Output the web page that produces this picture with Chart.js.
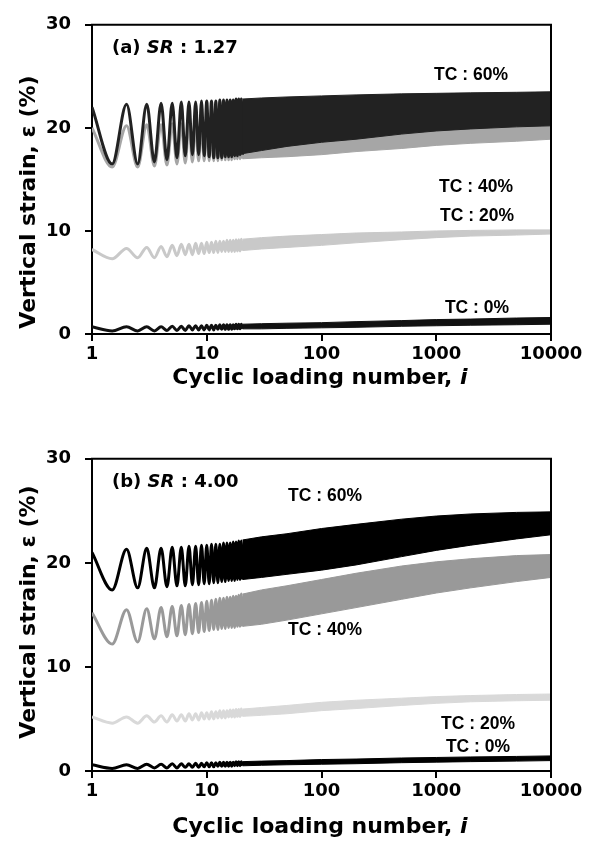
<!DOCTYPE html>
<html>
<head>
<meta charset="utf-8">
<script src="https://cdn.jsdelivr.net/npm/chart.js@4.4.0/dist/chart.umd.min.js"></script>
<style>
  html, body { margin: 0; padding: 0; background: #fff; }
  #wrap { position: relative; width: 595px; height: 851px; }
  canvas { position: absolute; left: 0; }
</style>
</head>
<body>
<div id="wrap">
  <canvas id="chartA" width="595" height="434" style="top:0"></canvas>
  <canvas id="chartB" width="595" height="417" style="top:434px"></canvas>
</div>
<script>
// resolved cycles: peak at cycle i, trough half a cycle later
const cycles = [1, 2, 3, 4, 5, 6, 7, 8, 9, 10, 11, 12, 13, 14, 15, 16, 17, 18, 19, 20];
// beyond that the oscillation is drawn as a band (upper / lower envelope)
const bandX = [20.5, 30, 50, 100, 200, 500, 1000, 2000, 5000, 10000];
const xTicks = [1, 10, 100, 1000, 10000];
const yTicks = [0, 10, 20, 30];

// (a) SR : 1.27
const a60Peak   = [22.0, 22.3, 22.3, 22.4, 22.4, 22.5, 22.5, 22.5, 22.6, 22.6, 22.6, 22.6, 22.7, 22.7, 22.7, 22.7, 22.7, 22.8, 22.8, 22.8];
const a60Trough = [16.5, 16.5, 16.7, 16.9, 17.1, 17.3, 17.4, 17.4, 17.3, 17.2, 17.1, 17.1, 17.1, 17.2, 17.2, 17.2, 17.3, 17.3, 17.4, 17.4];
const a60Upper  = [22.8, 22.9, 23.0, 23.1, 23.2, 23.3, 23.35, 23.4, 23.45, 23.5];
const a60Lower  = [17.5, 17.8, 18.2, 18.6, 18.9, 19.4, 19.7, 19.9, 20.1, 20.2];

const a40Peak   = [20.0, 20.2, 20.3, 20.3, 20.4, 20.4, 20.5, 20.5, 20.5, 20.6, 20.6, 20.6, 20.6, 20.6, 20.6, 20.6, 20.7, 20.7, 20.7, 20.7];
const a40Trough = [16.2, 16.2, 16.3, 16.4, 16.5, 16.6, 16.7, 16.8, 16.8, 16.8, 16.8, 16.8, 16.9, 16.9, 16.9, 16.9, 17.0, 17.0, 17.0, 17.0];
const a40Upper  = [20.7, 20.8, 21.0, 21.2, 21.4, 21.6, 21.8, 21.9, 22.0, 22.0];
const a40Lower  = [17.0, 17.1, 17.2, 17.4, 17.7, 18.0, 18.3, 18.5, 18.7, 18.9];

const a20Peak   = [8.2, 8.3, 8.4, 8.5, 8.6, 8.7, 8.7, 8.8, 8.8, 8.9, 8.9, 9.0, 9.0, 9.0, 9.1, 9.1, 9.1, 9.15, 9.15, 9.2];
const a20Trough = [7.3, 7.4, 7.4, 7.5, 7.6, 7.7, 7.7, 7.8, 7.8, 7.9, 7.9, 7.9, 8.0, 8.0, 8.0, 8.0, 8.0, 8.05, 8.05, 8.1];
const a20Upper  = [9.2, 9.35, 9.5, 9.65, 9.8, 9.9, 10.0, 10.05, 10.1, 10.1];
const a20Lower  = [8.1, 8.25, 8.4, 8.6, 8.85, 9.15, 9.35, 9.5, 9.6, 9.7];

const a0Peak    = [0.7, 0.7, 0.7, 0.7, 0.75, 0.75, 0.8, 0.8, 0.8, 0.85, 0.85, 0.85, 0.9, 0.9, 0.9, 0.9, 0.9, 0.95, 0.95, 0.95];
const a0Trough  = [0.3, 0.3, 0.3, 0.35, 0.35, 0.35, 0.4, 0.4, 0.4, 0.4, 0.4, 0.45, 0.45, 0.45, 0.45, 0.45, 0.5, 0.5, 0.5, 0.5];
const a0Upper   = [0.95, 1.0, 1.05, 1.1, 1.2, 1.3, 1.4, 1.45, 1.55, 1.6];
const a0Lower   = [0.5, 0.5, 0.55, 0.6, 0.65, 0.75, 0.8, 0.85, 0.9, 0.95];

// (b) SR : 4.00
const b60Peak   = [21.0, 21.3, 21.4, 21.4, 21.5, 21.5, 21.6, 21.6, 21.7, 21.7, 21.8, 21.8, 21.8, 21.9, 21.9, 21.9, 22.0, 22.0, 22.1, 22.1];
const b60Trough = [17.4, 17.6, 17.6, 17.7, 17.8, 17.8, 17.9, 17.9, 18.0, 18.0, 18.1, 18.1, 18.2, 18.2, 18.3, 18.3, 18.3, 18.4, 18.4, 18.4];
const b60Upper  = [22.2, 22.5, 22.8, 23.3, 23.7, 24.2, 24.5, 24.7, 24.85, 24.9];
const b60Lower  = [18.4, 18.6, 18.9, 19.3, 19.8, 20.6, 21.2, 21.7, 22.3, 22.7];

const b40Peak   = [15.2, 15.5, 15.6, 15.7, 15.8, 15.9, 16.0, 16.1, 16.2, 16.3, 16.4, 16.5, 16.6, 16.6, 16.7, 16.7, 16.8, 16.8, 16.9, 17.0];
const b40Trough = [12.2, 12.4, 12.7, 12.9, 13.0, 13.1, 13.2, 13.3, 13.4, 13.5, 13.6, 13.6, 13.7, 13.7, 13.8, 13.8, 13.8, 13.9, 13.9, 13.9];
const b40Upper  = [17.0, 17.4, 17.8, 18.4, 19.0, 19.7, 20.1, 20.4, 20.7, 20.8];
const b40Lower  = [13.9, 14.1, 14.5, 15.1, 15.7, 16.5, 17.1, 17.6, 18.2, 18.6];

const b20Peak   = [5.2, 5.2, 5.3, 5.3, 5.4, 5.4, 5.5, 5.5, 5.6, 5.6, 5.7, 5.7, 5.8, 5.8, 5.8, 5.85, 5.85, 5.9, 5.9, 5.95];
const b20Trough = [4.6, 4.6, 4.7, 4.7, 4.8, 4.8, 4.9, 4.9, 5.0, 5.0, 5.0, 5.1, 5.1, 5.1, 5.2, 5.2, 5.2, 5.25, 5.25, 5.25];
const b20Upper  = [5.95, 6.1, 6.3, 6.6, 6.8, 7.0, 7.15, 7.25, 7.35, 7.4];
const b20Lower  = [5.25, 5.35, 5.5, 5.8, 6.0, 6.3, 6.5, 6.65, 6.75, 6.8];

const b0Peak    = [0.6, 0.6, 0.65, 0.65, 0.7, 0.7, 0.7, 0.75, 0.75, 0.8, 0.8, 0.8, 0.85, 0.85, 0.85, 0.85, 0.85, 0.9, 0.9, 0.9];
const b0Trough  = [0.25, 0.25, 0.3, 0.3, 0.3, 0.35, 0.35, 0.35, 0.4, 0.4, 0.4, 0.45, 0.45, 0.45, 0.45, 0.45, 0.5, 0.5, 0.5, 0.5];
const b0Upper   = [0.9, 0.95, 1.0, 1.1, 1.15, 1.25, 1.3, 1.35, 1.4, 1.45];
const b0Lower   = [0.5, 0.55, 0.6, 0.65, 0.7, 0.8, 0.85, 0.9, 0.95, 1.0];

const TICK_FONT = { family: 'DejaVu Sans', size: 18, weight: 'bold' };

function cyclePoints(peaks, troughs) {
  const pts = [];
  cycles.forEach((c, k) => {
    pts.push({ x: c, y: peaks[k] });
    pts.push({ x: c + 0.5, y: troughs[k] });
  });
  return pts;
}

function envelope(vals) {
  return bandX.map((x, k) => ({ x: x, y: vals[k] }));
}

// three datasets per series: band upper (filled to lower), band lower, cycle line
function series(list, color, peaks, troughs, upper, lower) {
  const base = list.length;
  list.push({
    data: envelope(upper), borderColor: color, backgroundColor: color,
    borderWidth: 1, pointRadius: 0, fill: base + 1
  });
  list.push({
    data: envelope(lower), borderColor: color, borderWidth: 1, pointRadius: 0, fill: false
  });
  list.push({
    data: cyclePoints(peaks, troughs), borderColor: color, borderWidth: 3,
    pointRadius: 0, fill: false, cubicInterpolationMode: 'monotone'
  });
}

function drawRuns(ctx, runs, x, y, size, align) {
  const font = (it) => (it ? 'italic ' : '') + 'bold ' + size + 'px ' + runs.family;
  let total = 0;
  runs.parts.forEach(p => { ctx.font = font(p.it); total += ctx.measureText(p.t).width; });
  let cx = align === 'center' ? x - total / 2 : x;
  ctx.textAlign = 'left';
  ctx.textBaseline = 'middle';
  runs.parts.forEach(p => {
    ctx.font = font(p.it);
    ctx.fillText(p.t, cx, y);
    cx += ctx.measureText(p.t).width;
  });
}

const panelText = {
  id: 'panelText',
  afterDraw(chart, args, opts) {
    const ctx = chart.ctx, area = chart.chartArea;
    ctx.save();
    ctx.strokeStyle = '#000';
    ctx.lineWidth = 2;
    ctx.beginPath();
    ctx.moveTo(area.left - 1, area.top);
    ctx.lineTo(area.right, area.top);
    ctx.lineTo(area.right, area.bottom);
    ctx.stroke();

    ctx.fillStyle = '#000';
    drawRuns(ctx, { family: 'DejaVu Sans', parts: opts.panel }, area.left + 20, opts.panelY, 18, 'left');
    opts.labels.forEach(l => {
      drawRuns(ctx, { family: 'Liberation Sans', parts: [{ t: l.t }] }, l.x, l.y, 17.5, 'center');
    });

    // axis titles
    drawRuns(ctx, { family: 'DejaVu Sans', parts: [{ t: 'Cyclic loading number, ' }, { t: 'i', it: true }] },
      320, opts.xTitleY, 22, 'center');
    ctx.translate(29, opts.yTitleY);
    ctx.rotate(-Math.PI / 2);
    drawRuns(ctx, { family: 'DejaVu Sans', parts: [{ t: 'Vertical strain, ε (%)' }] }, 0, 0, 22, 'center');
    ctx.restore();
  }
};

function makeChart(id, datasets, text, areaTop, areaBottom, canvasH) {
  return new Chart(document.getElementById(id), {
    type: 'line',
    data: { datasets: datasets },
    plugins: [panelText],
    options: {
      responsive: false,
      animation: false,
      layout: { padding: { left: 0, right: 44, top: areaTop, bottom: 0 } },
      plugins: { legend: { display: false }, tooltip: { enabled: false }, panelText: text },
      scales: {
        x: {
          type: 'logarithmic', min: 1, max: 10000,
          afterBuildTicks: s => { s.ticks = xTicks.map(v => ({ value: v })); },
          afterFit: s => { s.height = canvasH - areaBottom; },
          ticks: { color: '#000', font: TICK_FONT, padding: 3, maxRotation: 0, autoSkip: false,
                   callback: v => String(v) },
          grid: { drawOnChartArea: false, color: '#000', lineWidth: 2, tickLength: 7 },
          border: { color: '#000', width: 2 }
        },
        y: {
          min: 0, max: 30,
          afterBuildTicks: s => { s.ticks = yTicks.map(v => ({ value: v })); },
          afterFit: s => { s.width = 92; },
          ticks: { color: '#000', font: TICK_FONT, padding: 14 },
          grid: { drawOnChartArea: false, color: '#000', lineWidth: 2, tickLength: 7 },
          border: { color: '#000', width: 2 }
        }
      }
    }
  });
}

const dsA = [];
series(dsA, '#222222', a60Peak, a60Trough, a60Upper, a60Lower);
series(dsA, '#a6a6a6', a40Peak, a40Trough, a40Upper, a40Lower);
series(dsA, '#c9c9c9', a20Peak, a20Trough, a20Upper, a20Lower);
series(dsA, '#111111', a0Peak, a0Trough, a0Upper, a0Lower);

const dsB = [];
series(dsB, '#000000', b60Peak, b60Trough, b60Upper, b60Lower);
series(dsB, '#999999', b40Peak, b40Trough, b40Upper, b40Lower);
series(dsB, '#d9d9d9', b20Peak, b20Trough, b20Upper, b20Lower);
series(dsB, '#000000', b0Peak, b0Trough, b0Upper, b0Lower);

makeChart('chartA', dsA, {
  panel: [{ t: '(a) ' }, { t: 'SR', it: true }, { t: ' : 1.27' }], panelY: 48,
  labels: [
    { t: 'TC : 60%', x: 471, y: 75 },
    { t: 'TC : 40%', x: 476, y: 187 },
    { t: 'TC : 20%', x: 477, y: 216 },
    { t: 'TC : 0%', x: 477, y: 308 }
  ],
  xTitleY: 378, yTitleY: 202
}, 19, 334, 434);

makeChart('chartB', dsB, {
  panel: [{ t: '(b) ' }, { t: 'SR', it: true }, { t: ' : 4.00' }], panelY: 48,
  labels: [
    { t: 'TC : 60%', x: 325, y: 62 },
    { t: 'TC : 40%', x: 325, y: 196 },
    { t: 'TC : 20%', x: 478, y: 290 },
    { t: 'TC : 0%', x: 478, y: 313 }
  ],
  xTitleY: 393, yTitleY: 178
}, 18, 337, 417);
</script>
</body>
</html>
